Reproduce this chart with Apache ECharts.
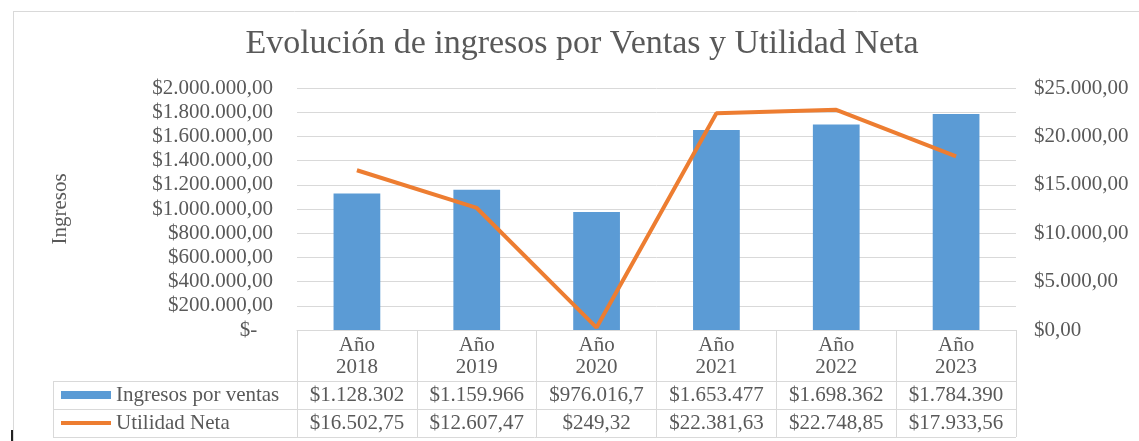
<!DOCTYPE html>
<html>
<head>
<meta charset="utf-8">
<script src="https://cdn.jsdelivr.net/npm/echarts@6/dist/echarts.min.js"></script>
<style>
  html, body { margin: 0; padding: 0; background: #fff; }
  #main { width: 1139px; height: 441px; }
</style>
</head>
<body>
<div id="main"></div>
<script>
// datos
const years = ['2018', '2019', '2020', '2021', '2022', '2023'];
const ingresos = [1128302, 1159966, 976016.7, 1653477, 1698362, 1784390];
const utilidad = [16502.75, 12607.47, 249.32, 22381.63, 22748.85, 17933.56];
const serieIngresos = 'Ingresos por ventas';
const serieUtilidad = 'Utilidad Neta';

// layout
const GRID_L = 297, GRID_R = 1016, GRID_T = 88, GRID_B = 330;
const ROW_H = 28, HEAD_H = 51, TABLE_L = 53;
const TXT = '#595959', LINE = '#d9d9d9';
const FONT = '"Liberation Serif", "Times New Roman", serif';
const FS = 21;

// formato moneda estilo es (1.234.567,89)
function money(v, dec) {
  const p = v.toFixed(dec).split('.');
  const ent = p[0].replace(/\B(?=(\d{3})+(?!\d))/g, '.');
  return '$' + ent + (dec ? ',' + p[1] : '');
}
// la celda de la tabla corta el texto como en excel
function cell(v) { return money(v, 2).slice(0, 10); }

let myChart = echarts.init(document.getElementById('main'));

const tableTop = GRID_B + HEAD_H;
const tableBottom = tableTop + 2 * ROW_H;

let option = {
  animation: false,
  textStyle: { fontFamily: FONT },
  title: {
    text: 'Evolución de ingresos por Ventas y Utilidad Neta',
    left: 577,
    textAlign: 'center',
    top: 22,
    textStyle: { fontFamily: FONT, fontSize: 34, fontWeight: 'normal', color: TXT }
  },
  legend: {
    orient: 'vertical',
    left: TABLE_L + 8,
    top: tableTop,
    itemWidth: 50,
    itemHeight: 8,
    itemGap: 0,
    textStyle: { fontFamily: FONT, fontSize: FS, color: TXT, lineHeight: ROW_H, padding: [0, 0, 0, 0] },
    padding: 0,
    data: [
      { name: serieIngresos, icon: 'rect' },
      { name: serieUtilidad, icon: 'path://M0,0 L50,0 L50,4 L0,4 Z' }
    ]
  },
  grid: {
    left: GRID_L,
    right: 1139 - GRID_R,
    top: GRID_T,
    bottom: 441 - GRID_B
  },
  xAxis: [
    {
      type: 'category',
      data: years,
      axisLine: { lineStyle: { color: LINE } },
      axisTick: { show: true, length: tableBottom - GRID_B, lineStyle: { color: LINE } },
      axisLabel: {
        interval: 0, margin: 4,
        color: TXT, fontFamily: FONT, fontSize: FS, lineHeight: 22,
        formatter: function (v) { return 'Año\n' + v; }
      }
    },
    {
      type: 'category',
      data: years,
      position: 'bottom',
      offset: HEAD_H,
      axisLine: { show: false },
      axisTick: { show: false },
      axisLabel: {
        interval: 0, margin: 0, color: TXT, fontFamily: FONT, fontSize: FS, lineHeight: ROW_H,
        formatter: function (v, i) { return cell(ingresos[i]); }
      }
    },
    {
      type: 'category',
      data: years,
      position: 'bottom',
      offset: HEAD_H + ROW_H,
      axisLine: { show: false },
      axisTick: { show: false },
      axisLabel: {
        interval: 0, margin: 0, color: TXT, fontFamily: FONT, fontSize: FS, lineHeight: ROW_H,
        formatter: function (v, i) { return cell(utilidad[i]); }
      }
    }
  ],
  yAxis: [
    {
      type: 'value',
      min: 0, max: 2000000, interval: 200000,
      name: 'Ingresos',
      nameLocation: 'middle',
      nameRotate: 90,
      nameGap: 226,
      nameTextStyle: { fontFamily: FONT, fontSize: FS, color: TXT },
      axisLine: { show: false },
      axisTick: { show: false },
      splitLine: { lineStyle: { color: LINE, width: 1 } },
      axisLabel: {
        margin: 24, color: TXT, fontFamily: FONT, fontSize: FS,
        formatter: function (v) { return v === 0 ? '$-   ' : money(v, 2); }
      }
    },
    {
      type: 'value',
      min: 0, max: 25000, interval: 5000,
      position: 'right',
      axisLine: { show: false },
      axisTick: { show: false },
      splitLine: { show: false },
      axisLabel: {
        margin: 18, color: TXT, fontFamily: FONT, fontSize: FS,
        formatter: function (v) { return money(v, 2); }
      }
    }
  ],
  graphic: [
    // marco
    { type: 'line', shape: { x1: 13, y1: 11.5, x2: 1139, y2: 11.5 }, style: { stroke: LINE, lineWidth: 1 } },
    { type: 'line', shape: { x1: 13.5, y1: 11, x2: 13.5, y2: 441 }, style: { stroke: LINE, lineWidth: 1 } },
    { type: 'line', shape: { x1: 12, y1: 430, x2: 12, y2: 441 }, style: { stroke: '#222', lineWidth: 2 } },
    // tabla de datos
    { type: 'line', shape: { x1: TABLE_L, y1: tableTop + 0.5, x2: GRID_R, y2: tableTop + 0.5 }, style: { stroke: LINE } },
    { type: 'line', shape: { x1: TABLE_L, y1: tableTop + ROW_H + 0.5, x2: GRID_R, y2: tableTop + ROW_H + 0.5 }, style: { stroke: LINE } },
    { type: 'line', shape: { x1: TABLE_L, y1: tableBottom + 0.5, x2: GRID_R, y2: tableBottom + 0.5 }, style: { stroke: LINE } },
    { type: 'line', shape: { x1: TABLE_L + 0.5, y1: tableTop, x2: TABLE_L + 0.5, y2: tableBottom }, style: { stroke: LINE } }
  ],
  series: [
    {
      name: serieIngresos,
      type: 'bar',
      barWidth: '39%',
      data: ingresos,
      itemStyle: { color: '#5b9bd5' }
    },
    {
      name: serieUtilidad,
      type: 'line',
      yAxisIndex: 1,
      data: utilidad,
      symbol: 'none',
      lineStyle: { color: '#ed7d31', width: 4 },
      itemStyle: { color: '#ed7d31' }
    }
  ]
};
myChart.setOption(option);
</script>
</body>
</html>
